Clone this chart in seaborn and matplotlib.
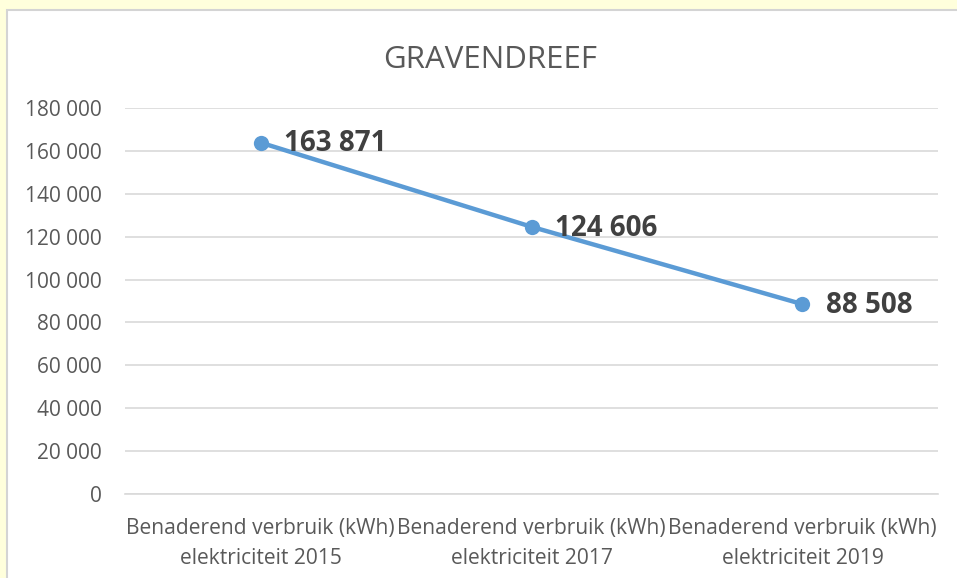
import matplotlib.pyplot as plt
import matplotlib.patches as mpatches
import pandas as pd
import seaborn as sns

# data
categories = ['Benaderend verbruik (kWh)\nelektriciteit 2015',
              'Benaderend verbruik (kWh)\nelektriciteit 2017',
              'Benaderend verbruik (kWh)\nelektriciteit 2019']
values = [163871, 124606, 88508]
y_ticks = [0, 20000, 40000, 60000, 80000, 100000, 120000, 140000, 160000, 180000]
title = 'GRAVENDREEF'

df = pd.DataFrame({'cat': categories, 'value': values})

sns.set_theme(style='white')
plt.rcParams['font.family'] = ['Open Sans', 'DejaVu Sans']

fig = plt.figure(figsize=(9.57, 5.78), dpi=100)
fig.patch.set_facecolor('#FFFFDC')

# white chart box with grey border
box = mpatches.Rectangle((7 / 957, -0.05), 1.1, (578 - 9.5) / 578 + 0.05,
                         transform=fig.transFigure, facecolor='white',
                         edgecolor='#D4D4D4', linewidth=1.5, zorder=-1)
fig.add_artist(box)

ax = fig.add_axes([125 / 957, (578 - 494) / 578, (938 - 125) / 957, (494 - 108) / 578])
ax.set_zorder(2)
ax.set_facecolor('none')

sns.lineplot(data=df, x='cat', y='value', ax=ax, color='#5B9BD5', linewidth=3.2,
             marker='o', markersize=11, markeredgewidth=0, sort=False)

ax.set_xlim(-0.5, len(categories) - 0.5)
ax.set_ylim(0, 180000)
ax.set_yticks(y_ticks)
ax.set_yticklabels([f'{v:,}'.replace(',', ' ') for v in y_ticks])
ax.yaxis.grid(True, color='#D9D9D9', linewidth=1.2)
ax.set_axisbelow(True)
for s in ['top', 'right', 'left']:
    ax.spines[s].set_visible(False)
ax.spines['bottom'].set_color('#D9D9D9')
ax.spines['bottom'].set_linewidth(1.2)
ax.tick_params(axis='both', length=0, colors='#595959')
ax.tick_params(axis='y', pad=17, labelsize=15)
ax.tick_params(axis='x', pad=17, labelsize=15.1)
for lbl in ax.get_xticklabels():
    lbl.set_linespacing(1.6)
ax.set_xlabel('')
ax.set_ylabel('')

for i, v in enumerate(values):
    ax.annotate(f'{v:,}'.replace(',', ' '), (i, v), xytext=(17, -1),
                textcoords='offset points', va='center', ha='left',
                fontsize=20, fontweight='bold', color='#404040')

fig.text(490 / 957, (578 - 60) / 578, title, ha='center', va='center',
         fontsize=22.5, color='#595959')

fig.savefig('out.png', dpi=100, facecolor=fig.get_facecolor())
